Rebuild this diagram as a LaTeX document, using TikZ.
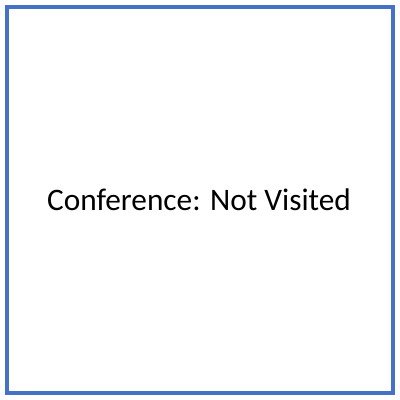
\documentclass[tikz,border=0pt]{standalone}
\usepackage{fontspec}
\setmainfont{Carlito}
\definecolor{boxblue}{HTML}{4472C4}
\begin{document}
\begin{tikzpicture}[x=1pt,y=1pt]
\useasboundingbox (0,0) rectangle (400,400);
\fill[white] (0,0) rectangle (400,400);
\node[draw=boxblue, line width=4pt, minimum width=386pt, minimum height=386pt, inner sep=0pt] (box) at (200,200) {};
\node[font=\fontsize{31.3}{36}\selectfont, inner sep=0pt, anchor=base] (label) at (199,189.5) {Conference: Not Visited};
\end{tikzpicture}
\end{document}
